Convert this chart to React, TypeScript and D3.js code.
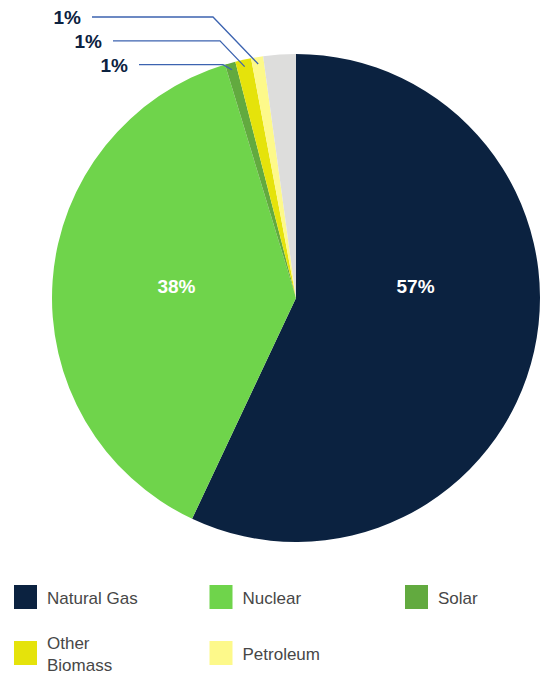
import React from "react";
import * as d3 from "d3";

const categories = ["Natural Gas", "Nuclear", "Solar", "Other Biomass", "Petroleum", "Other"];
const values = [57.0, 38.3, 0.7, 1.05, 0.8, 2.15];
const colors = ["#0b2240", "#6fd44b", "#62aa3f", "#e5e30b", "#fdf98a", "#dddddc"];
const labels = ["57%", "38%", "1%", "1%", "1%", ""];
const legendItems = ["Natural Gas", "Nuclear", "Solar", "Other Biomass", "Petroleum"];

const W = 540, H = 675;
const cx = 296, cy = 298, R = 244;

export default function App() {
  const data = categories.map((c, i) => ({ c, v: values[i], color: colors[i], label: labels[i] }));
  const pie = d3.pie<any>().value((d) => d.v).sort(null);
  const arcs = pie(data);
  const arc = d3.arc<any>().innerRadius(0).outerRadius(R);

  // outer leader labels for small slices
  const small = arcs.filter((a) => a.data.v < 2 && a.data.label);
  // order: last (Petroleum) topmost
  const smallSorted = [...small].reverse();

  return (
    <svg width={W} height={H} style={{ position: "absolute", left: 0, top: 0 }}>
      <g transform={`translate(${cx},${cy})`}>
        {arcs.map((a, i) => (
          <path key={i} d={arc(a) as string} fill={a.data.color} />
        ))}
        {arcs.filter((a) => a.data.v >= 2 && a.data.label).map((a, i) => {
          const mid = (a.startAngle + a.endAngle) / 2;
          const side = Math.sin(mid) >= 0 ? 1 : -1;
          return (
            <text key={i} x={side * R * 0.49} y={-5} textAnchor="middle" fill="#ffffff"
              fontFamily="Liberation Sans, Arial, sans-serif" fontWeight="bold" fontSize={19}>
              {a.data.label}
            </text>
          );
        })}
        {smallSorted.map((a, i) => {
          const mid = (a.startAngle + a.endAngle) / 2;
          const rr = R - 7;
          const px = rr * Math.sin(mid);
          const py = -rr * Math.cos(mid);
          const ly = -cy + 17 + i * 23.8;
          const ex = [213, 220, 223][i] - cx;
          const sx = [92, 113, 139][i] - cx;
          return (
            <g key={i}>
              <polyline points={`${sx},${ly} ${ex},${ly} ${px},${py}`} fill="none" stroke="#3c63b0" strokeWidth={1.3} />
              <text x={sx - 11} y={ly + 7} textAnchor="end" fill="#0b2240"
                fontFamily="Liberation Sans, Arial, sans-serif" fontWeight="bold" fontSize={19}>
                {a.data.label}
              </text>
            </g>
          );
        })}
      </g>
      <g fontFamily="Liberation Sans, Arial, sans-serif" fontSize={17} fill="#474747">
        {legendItems.map((name, i) => {
          const col = i % 3, row = Math.floor(i / 3);
          const x = 14 + col * 195.5;
          const y = 585 + row * 56;
          const color = colors[categories.indexOf(name)];
          const words = name === "Other Biomass" ? ["Other", "Biomass"] : [name];
          return (
            <g key={name}>
              <rect x={x} y={y} width={23} height={24} fill={color} />
              {words.length === 1 ? (
                <text x={x + 33} y={y + 19}>{name}</text>
              ) : (
                <text x={x + 33} y={y + 8}>
                  <tspan x={x + 33}>{words[0]}</tspan>
                  <tspan x={x + 33} dy={21.5}>{words[1]}</tspan>
                </text>
              )}
            </g>
          );
        })}
      </g>
    </svg>
  );
}
